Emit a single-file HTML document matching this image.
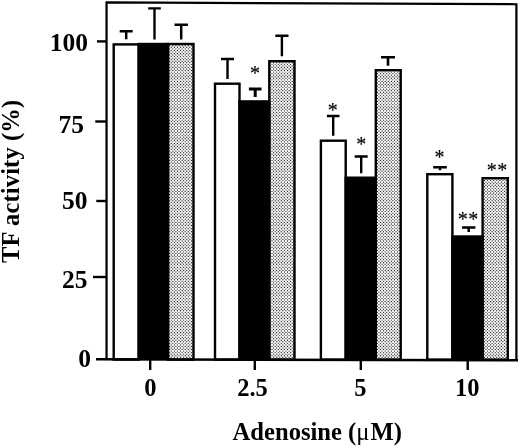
<!DOCTYPE html>
<html lang="en"><head><meta charset="utf-8"><title>TF activity vs Adenosine</title>
<style>html,body{margin:0;padding:0;background:#fff}body{width:520px;height:448px;overflow:hidden}svg{display:block}text{font-family:"Liberation Serif", "DejaVu Serif", serif;font-weight:bold;fill:#000}</style></head><body>
<svg width="520" height="448" viewBox="0 0 520 448">
<defs><pattern id="dots" width="31" height="31" patternUnits="userSpaceOnUse" x="0" y="0"><rect width="31" height="31" fill="#fff"/><path d="M-2.325 0.775 H34.200 M-0.775 2.325 H34.200 M-2.325 3.875 H34.200 M-0.775 5.425 H34.200 M-2.325 6.975 H34.200 M-0.775 8.525 H34.200 M-2.325 10.075 H34.200 M-0.775 11.625 H34.200 M-2.325 13.175 H34.200 M-0.775 14.725 H34.200 M-2.325 16.275 H34.200 M-0.775 17.825 H34.200 M-2.325 19.375 H34.200 M-0.775 20.925 H34.200 M-2.325 22.475 H34.200 M-0.775 24.025 H34.200 M-2.325 25.575 H34.200 M-0.775 27.125 H34.200 M-2.325 28.675 H34.200 M-0.775 30.225 H34.200" stroke="#222" stroke-width="1.32" stroke-linecap="round" stroke-dasharray="0 3.1" fill="none"/></pattern></defs>
<rect width="520" height="448" fill="#fff"/>
<g>
<path d="M106.55 359.6 L106.55 2.35 L516.4 4.25 L516.4 360.6" fill="none" stroke="#000" stroke-width="2.25" stroke-linejoin="miter"/>
<rect x="113.70" y="44.40" width="25.00" height="315.20" fill="#fff" stroke="#000" stroke-width="2.4"/>
<rect x="168.00" y="44.00" width="25.50" height="315.60" fill="url(#dots)" stroke="#000" stroke-width="2.4"/>
<rect x="137.50" y="42.80" width="31.70" height="316.80" fill="#000"/>
<rect x="215.00" y="83.70" width="24.50" height="275.90" fill="#fff" stroke="#000" stroke-width="2.4"/>
<rect x="269.30" y="61.20" width="25.20" height="298.40" fill="url(#dots)" stroke="#000" stroke-width="2.4"/>
<rect x="238.30" y="100.20" width="32.20" height="259.40" fill="#000"/>
<rect x="320.90" y="140.70" width="24.80" height="218.90" fill="#fff" stroke="#000" stroke-width="2.4"/>
<rect x="375.80" y="70.20" width="24.90" height="289.40" fill="url(#dots)" stroke="#000" stroke-width="2.4"/>
<rect x="344.50" y="176.50" width="32.50" height="183.10" fill="#000"/>
<rect x="427.30" y="174.20" width="25.10" height="185.40" fill="#fff" stroke="#000" stroke-width="2.4"/>
<rect x="482.60" y="178.20" width="25.20" height="181.40" fill="url(#dots)" stroke="#000" stroke-width="2.4"/>
<rect x="451.20" y="235.30" width="32.60" height="124.30" fill="#000"/>
<path d="M96 359.25 L518 360.35" stroke="#000" stroke-width="2.5" fill="none"/>
<path d="M97.0 41.4 H106.5" stroke="#000" stroke-width="2.4"/>
<path d="M95.3 121.5 H106.5" stroke="#000" stroke-width="2.4"/>
<path d="M96.3 201.0 H106.5" stroke="#000" stroke-width="2.4"/>
<path d="M93.0 277.0 H106.5" stroke="#000" stroke-width="2.4"/>
<path d="M150.2 359.6 V370.0" stroke="#000" stroke-width="2.4"/>
<path d="M254.8 359.6 V370.0" stroke="#000" stroke-width="2.4"/>
<path d="M360.8 359.6 V370.0" stroke="#000" stroke-width="2.4"/>
<path d="M467.7 359.6 V370.0" stroke="#000" stroke-width="2.4"/>
<path d="M119.7 31.3 H132.7 M126.2 31.3 V39.2" stroke="#000" stroke-width="2.5" fill="none"/>
<path d="M148.2 8.4 H160.8 M154.5 8.4 V39.6" stroke="#000" stroke-width="2.4" fill="none"/>
<path d="M174.5 24.7 H187.9 M181.2 24.7 V39.6" stroke="#000" stroke-width="2.5" fill="none"/>
<path d="M221.0 59.0 H234.0 M227.5 59.0 V79.0" stroke="#000" stroke-width="2.4" fill="none"/>
<path d="M248.9 89.0 H261.5 M255.2 89.0 V97.0" stroke="#000" stroke-width="3.0" fill="none"/>
<path d="M275.3 35.8 H288.5 M281.9 35.8 V56.3" stroke="#000" stroke-width="2.4" fill="none"/>
<path d="M326.9 116.0 H339.5 M333.2 116.0 V135.8" stroke="#000" stroke-width="2.4" fill="none"/>
<path d="M354.7 156.5 H367.7 M361.2 156.5 V173.2" stroke="#000" stroke-width="2.4" fill="none"/>
<path d="M381.0 57.3 H395.0 M388.0 57.3 V65.8" stroke="#000" stroke-width="2.6" fill="none"/>
<path d="M433.2 167.2 H446.8 M440.0 167.2 V170.2" stroke="#000" stroke-width="2.5" fill="none"/>
<path d="M462.0 227.4 H475.4 M468.7 227.4 V232.0" stroke="#000" stroke-width="2.5" fill="none"/>
</g>
<text x="88.0" y="50.6" font-size="25.5" text-anchor="end">100</text>
<text x="83.9" y="132.6" font-size="25.5" text-anchor="end">75</text>
<text x="87.4" y="208.6" font-size="25.5" text-anchor="end">50</text>
<text x="87.4" y="288.0" font-size="25.5" text-anchor="end">25</text>
<text x="91.0" y="366.5" font-size="25.5" text-anchor="end">0</text>
<text x="150.4" y="395.6" font-size="24.5" text-anchor="middle">0</text>
<text x="252.5" y="395.6" font-size="24.5" text-anchor="middle">2.5</text>
<text x="360.3" y="395.6" font-size="24.5" text-anchor="middle">5</text>
<text x="467.2" y="395.6" font-size="24.5" text-anchor="middle">10</text>
<text x="255.0" y="79.9" font-size="20" text-anchor="middle" stroke="#000" stroke-width="0.15" style="font-weight:normal;letter-spacing:0px">*</text>
<text x="332.8" y="117.3" font-size="20" text-anchor="middle" stroke="#000" stroke-width="0.15" style="font-weight:normal;letter-spacing:0px">*</text>
<text x="361.3" y="150.9" font-size="20" text-anchor="middle" stroke="#000" stroke-width="0.15" style="font-weight:normal;letter-spacing:0px">*</text>
<text x="439.4" y="163.9" font-size="20" text-anchor="middle" stroke="#000" stroke-width="0.15" style="font-weight:normal;letter-spacing:0px">*</text>
<text x="468.2" y="225.6" font-size="20" text-anchor="middle" stroke="#000" stroke-width="0.15" style="font-weight:normal;letter-spacing:0.4px">**</text>
<text x="497.2" y="176.9" font-size="20" text-anchor="middle" stroke="#000" stroke-width="0.15" style="font-weight:normal;letter-spacing:0.4px">**</text>
<text x="232.6" y="440.2" font-size="24.6">Adenosine (<tspan style="font-weight:normal">μ</tspan><tspan dx="1.1">M)</tspan></text>
<text transform="translate(19,263) rotate(-90)" font-size="24.6"><tspan style="letter-spacing:0.12px">TF activity </tspan><tspan style="letter-spacing:0px">(%)</tspan></text>
</svg></body></html>
